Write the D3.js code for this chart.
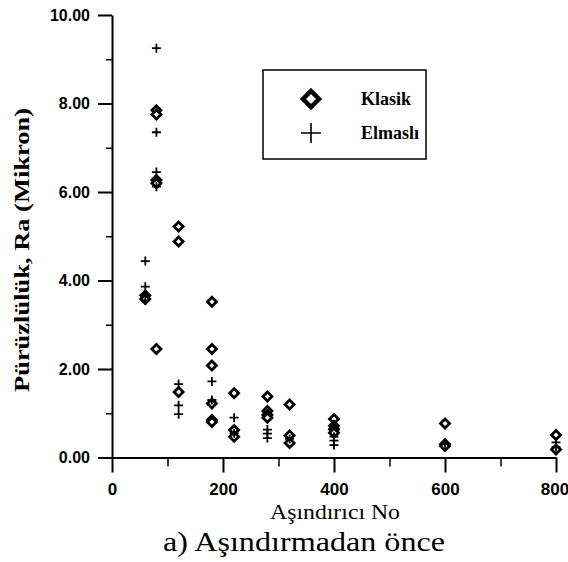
<!DOCTYPE html>
<html>
<head>
<meta charset="utf-8">
<script src="https://cdn.jsdelivr.net/npm/d3@7"></script>
<style>
  body { margin: 0; background: #fff; }
  svg { display: block; font-family: "Liberation Serif", "Times New Roman", serif; }
  .axis path, .axis line { stroke: #000; stroke-width: 2; }
  .axis text { font-size: 16px; font-weight: bold; fill: #000; }
  .xaxis text { font-size: 17px; }
  .minor line { stroke: #000; stroke-width: 1.5; }
  .diamond { fill: #fff; stroke: #000; stroke-width: 2.8; }
  .plus { stroke: #000; stroke-width: 1.8; fill: none; }
</style>
</head>
<body>
<svg width="568" height="562"></svg>
<script>
// Klasik (diamonds)
const klasikX = [60, 60, 80, 80, 80, 80, 80, 120, 120, 120, 180, 180, 180, 180, 180, 180,
  220, 220, 220, 280, 280, 280, 280, 320, 320, 320, 400, 400, 400, 400, 600, 600, 600, 800, 800];
const klasikY = [3.66, 3.58, 7.85, 7.75, 6.27, 6.20, 2.45, 5.22, 4.88, 1.48, 3.52, 2.45, 2.08, 1.22, 0.85, 0.80,
  1.45, 0.62, 0.47, 1.38, 1.05, 0.96, 0.90, 1.20, 0.50, 0.33, 0.87, 0.72, 0.64, 0.56, 0.77, 0.30, 0.26, 0.51, 0.18];

// Elmasli (plus)
const elmasX = [60, 60, 60, 80, 80, 80, 80, 120, 120, 120, 180, 180, 220, 220, 280, 280, 280,
  320, 400, 400, 400, 600, 800, 800];
const elmasY = [4.44, 3.86, 3.55, 9.25, 7.35, 6.45, 6.12, 1.66, 1.18, 0.98, 1.72, 1.30, 0.90, 0.55, 0.63, 0.54, 0.44,
  0.42, 0.47, 0.38, 0.28, 0.32, 0.34, 0.24];

const xTicks = [0, 200, 400, 600, 800];
const xMinor = [100, 300, 500, 700];
const yTicks = [0, 2, 4, 6, 8, 10];
const yMinor = [1, 3, 5, 7, 9];

const svg = d3.select("svg");

const x = d3.scaleLinear().domain([0, 800]).range([112, 556]);
const y = d3.scaleLinear().domain([0, 10]).range([457.5, 15]);

// minor ticks
svg.append("g")
  .attr("class", "minor")
  .attr("transform", "translate(0,457.5)")
  .call(d3.axisBottom(x).tickValues(xMinor).tickSize(9).tickFormat(""))
  .call(g => g.select(".domain").remove());
svg.append("g")
  .attr("class", "minor")
  .attr("transform", "translate(112,0)")
  .call(d3.axisLeft(y).tickValues(yMinor).tickSize(6).tickFormat(""))
  .call(g => g.select(".domain").remove());

// x axis
const xAxis = svg.append("g")
  .attr("class", "axis xaxis")
  .attr("transform", "translate(0,457.5)")
  .call(d3.axisBottom(x).tickValues(xTicks).tickSize(15).tickSizeOuter(0).tickPadding(10).tickFormat(d3.format("d")));
// last label sits on the right edge, keep it inside
xAxis.selectAll(".tick text").filter(d => d === 800).attr("dx", "-1.5");

// y axis
svg.append("g")
  .attr("class", "axis")
  .attr("transform", "translate(112,0)")
  .call(d3.axisLeft(y).tickValues(yTicks).tickSize(14).tickSizeOuter(0).tickPadding(8).tickFormat(d3.format(".2f")));

// points
const diamond = s => `M0,${-s}L${s},0L0,${s}L${-s},0Z`;
const plus = s => `M${-s},0H${s}M0,${-s}V${s}`;

svg.append("g")
  .selectAll("path")
  .data(klasikX)
  .join("path")
  .attr("class", "diamond")
  .attr("transform", (d, i) => `translate(${x(d)},${y(klasikY[i])})`)
  .attr("d", diamond(4.5));

svg.append("g")
  .selectAll("path")
  .data(elmasX)
  .join("path")
  .attr("class", "plus")
  .attr("transform", (d, i) => `translate(${x(d)},${y(elmasY[i])})`)
  .attr("d", plus(4.5));

// legend
const legend = svg.append("g");
legend.append("rect")
  .attr("x", 263).attr("y", 70).attr("width", 163).attr("height", 89)
  .attr("fill", "#fff").attr("stroke", "#000").attr("stroke-width", 1.5);
legend.append("path")
  .attr("class", "diamond")
  .attr("transform", "translate(311,99)")
  .attr("d", diamond(8))
  .style("stroke-width", 4.5);
legend.append("path")
  .attr("class", "plus")
  .attr("transform", "translate(311,133)")
  .attr("d", plus(10))
  .style("stroke-width", 1.6);
legend.append("text")
  .attr("x", 361).attr("y", 105)
  .style("font-size", "18px").style("font-weight", "bold")
  .text("Klasik");
legend.append("text")
  .attr("x", 361).attr("y", 139)
  .style("font-size", "18px").style("font-weight", "bold")
  .text("Elmaslı");

// axis titles
svg.append("text")
  .attr("transform", "translate(29,250) rotate(-90)")
  .attr("text-anchor", "middle")
  .attr("textLength", 284)
  .attr("lengthAdjust", "spacingAndGlyphs")
  .style("font-size", "22px").style("font-weight", "bold")
  .text("Pürüzlülük, Ra (Mikron)");

svg.append("text")
  .attr("x", 335).attr("y", 519)
  .attr("text-anchor", "middle")
  .attr("textLength", 130)
  .attr("lengthAdjust", "spacingAndGlyphs")
  .style("font-size", "21px")
  .text("Aşındırıcı No");

svg.append("text")
  .attr("x", 304).attr("y", 551)
  .attr("text-anchor", "middle")
  .attr("textLength", 282)
  .attr("lengthAdjust", "spacingAndGlyphs")
  .style("font-size", "27px")
  .text("a) Aşındırmadan önce");
</script>
</body>
</html>
